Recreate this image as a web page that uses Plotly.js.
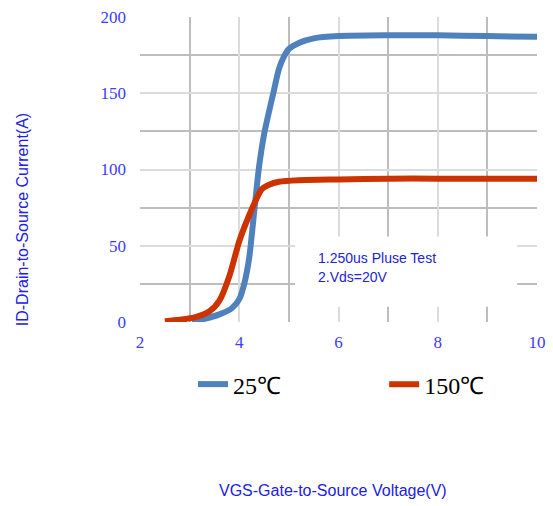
<!DOCTYPE html>
<html>
<head>
<meta charset="utf-8">
<script src="https://cdn.plot.ly/plotly-3.0.1.min.js"></script>
<style>html,body{margin:0;padding:0;background:#fff;}#chart{width:553px;height:506px;}</style>
</head>
<body>
<div id="chart"></div>
<script>
// 25°C curve
const vgs25 = [3.05, 3.3, 3.6, 3.85, 4.0, 4.1, 4.2, 4.3, 4.4, 4.5, 4.6, 4.7, 4.8, 4.9, 5.0, 5.2, 5.5, 6.0, 7.0, 8.0, 9.0, 10.0];
const id25  = [0, 2, 5, 9, 15, 25, 42, 72, 102, 123, 138, 152, 166, 174, 179, 183, 186, 187.5, 188, 188, 187.5, 187];
// 150°C curve
const vgs150 = [2.5, 2.8, 3.1, 3.4, 3.6, 3.8, 4.0, 4.2, 4.35, 4.45, 4.6, 4.8, 5.2, 6.0, 7.0, 8.0, 9.0, 10.0];
const id150  = [0.5, 1.5, 3, 7, 14, 30, 53, 70, 81, 87, 90, 92, 93, 93.5, 94, 94, 94, 94];
const seriesNames = ['25℃', '150℃'];
const xTicks = [2, 4, 6, 8, 10];
const yTicks = [0, 50, 100, 150, 200];
const noteLines = ['1.250us Pluse Test', '2.Vds=20V'];

const tickFont = {family: 'Liberation Serif', size: 17, color: '#3c3cff'};
const legendFont = {family: 'Liberation Serif', size: 24, color: '#000'};
const data = [
  {x: vgs25, y: id25, name: seriesNames[0], mode: 'lines', legend: 'legend',
   line: {color: '#4f81bd', width: 6, shape: 'spline', smoothing: 0.7}},
  {x: vgs150, y: id150, name: seriesNames[1], mode: 'lines', legend: 'legend2',
   line: {color: '#cc3300', width: 6, shape: 'spline', smoothing: 0.7}}
];
const layout = {
  width: 553, height: 506,
  margin: {l: 140, r: 16, t: 17, b: 184},
  paper_bgcolor: '#fff', plot_bgcolor: '#fff',
  showlegend: true,
  legend: {orientation: 'h', x: 0.1335, y: -0.205, xanchor: 'left', yanchor: 'middle', font: legendFont, bgcolor: 'rgba(0,0,0,0)'},
  legend2: {orientation: 'h', x: 0.615, y: -0.205, xanchor: 'left', yanchor: 'middle', font: legendFont, bgcolor: 'rgba(0,0,0,0)'},
  xaxis: {range: [2, 10], tickvals: xTicks, ticktext: xTicks.map(String), showline: false, zeroline: false,
          showgrid: true, gridcolor: '#dcdcdc', gridwidth: 2, ticks: '', tickfont: tickFont, ticklabelstandoff: 8,
          minor: {dtick: 1, showgrid: true, gridcolor: '#bdbdbd', gridwidth: 2}},
  yaxis: {range: [0, 200], tickvals: yTicks, ticktext: yTicks.map(String), showline: false, zeroline: false,
          showgrid: true, gridcolor: '#dcdcdc', gridwidth: 2, ticks: '', tickfont: tickFont, ticklabelstandoff: 13,
          minor: {dtick: 25, showgrid: true, gridcolor: '#bdbdbd', gridwidth: 2}},
  shapes: [{type: 'rect', xref: 'x', yref: 'y', x0: 5.125, x1: 9.6, y0: 10, y1: 56, fillcolor: '#fff', line: {width: 0}, layer: 'between'}],
  annotations: [
    {text: noteLines[0], xref: 'x', yref: 'y', x: 5.55, y: 42, xanchor: 'left', yanchor: 'middle', showarrow: false,
     font: {family: 'Liberation Sans', size: 14, color: '#2424d0'}},
    {text: noteLines[1], xref: 'x', yref: 'y', x: 5.55, y: 29.5, xanchor: 'left', yanchor: 'middle', showarrow: false,
     font: {family: 'Liberation Sans', size: 14, color: '#2424d0'}},
    {text: 'ID-Drain-to-Source Current(A)', xref: 'paper', yref: 'paper', x: -0.297, y: 0.334, textangle: -90,
     xanchor: 'center', yanchor: 'middle', showarrow: false, font: {family: 'Liberation Sans', size: 16, color: '#2020e8'}},
    {text: 'VGS-Gate-to-Source Voltage(V)', xref: 'paper', yref: 'paper', x: 0.486, y: -0.554,
     xanchor: 'center', yanchor: 'middle', showarrow: false, font: {family: 'Liberation Sans', size: 16, color: '#2020e8'}}
  ]
};
Plotly.newPlot('chart', data, layout, {displayModeBar: false, staticPlot: true});
</script>
</body>
</html>
